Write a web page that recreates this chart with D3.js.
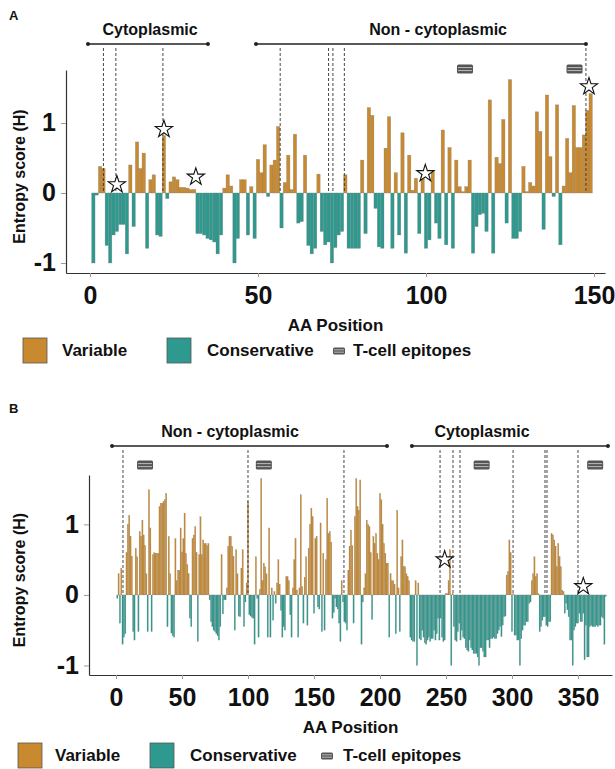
<!DOCTYPE html>
<html>
<head>
<meta charset="utf-8">
<script src="https://cdn.jsdelivr.net/npm/d3@7"></script>
<style>
  body { margin: 0; background: #fff; }
  svg { display: block; font-family: "Liberation Sans", Arial, sans-serif; font-weight: bold; }
</style>
</head>
<body>
<div id="chart"></div>
<script>
// entropy per AA position (position = index + 1)
const entropyA = [
  -1.0, -0.03, 0.38, 0.35, -0.75, -1.0, -0.6, -0.55, -0.45, -0.45,
  -0.87, 0.4, -0.48, 0.73, 0.35, 0.57, -0.79, 0.19, 0.26, -0.6,
  -0.62, 0.82, -0.08, 0.16, 0.23, 0.19, 0.08, 0.08, 0.07, 0.05,
  0.05, -0.58, -0.58, -0.6, -0.65, -0.67, -0.7, -0.87, -0.6, 0.07,
  0.26, 0.1, -1.0, -0.65, 0.19, 0.19, -0.6, 0.09, -0.65, 0.48,
  0.29, 0.69, -0.05, 0.4, 0.47, 0.95, -0.5, 0.15, 0.54, 0.05,
  0.84, -0.43, -0.41, 0.54, -0.75, -0.87, -0.79, 0.27, -0.55, -0.74,
  -0.7, -1.0, -0.78, -0.6, -0.55, 0.26, -0.79, -0.79, -0.79, -0.79,
  0.47, -0.58, 1.22, 1.11, -0.22, -0.77, -0.79, 0.64, 1.09, -0.79,
  0.29, -0.6, 0.86, -0.86, 0.54, 0.04, 0.21, -0.58, 0.23, -0.79,
  -0.67, 0.32, -0.43, -0.65, 0.9, -0.74, 0.65, -0.79, 0.47, 0.09,
  0.02, 0.09, 0.47, -0.86, -0.48, -0.31, -0.29, -0.55, 1.33, -0.86,
  0.51, 0.42, 1.05, -0.43, 1.62, -0.65, -0.65, -0.55, 0.38, 0.02,
  0.15, 0.1, 1.16, 0.88, -0.52, 1.4, 0.52, -0.05, 1.26, -0.74,
  0.1, 0.78, 0.29, 1.25, 0.65, 0.65, 0.83, 1.18, 1.42
];

const entropyB = [
  -0.05, 0.3, -0.4, 0.38, -0.7, -0.6, -0.55, 0.6, 1.0, 1.13,
  0.83, 0.55, -0.52, -0.64, 0.66, 0.54, -0.52, 0.9, 0.83, 1.06,
  0.85, 0.7, 0.3, -0.52, 1.49, 0.95, -0.52, 0.57, 0.6, 0.59,
  0.59, 0.59, 1.25, 1.3, 1.3, 1.32, 1.35, 1.44, -0.45, 0.83,
  0.3, -0.54, -0.58, -0.6, 0.8, 0.2, 0.35, 0.35, 0.95, 0.61,
  0.8, 1.16, 0.59, 0.43, 0.3, -0.33, -0.45, 0.8, 0.85, 0.97,
  0.6, -0.66, 0.57, 1.11, 0.57, 0.78, 0.73, 0.73, 0.7, 0.73,
  -0.07, -0.38, -0.45, -0.5, -0.52, -0.55, -0.58, -0.64, -0.45, 0.57,
  -0.27, -0.07, -0.07, 0.1, 0.69, 0.83,
  0.83, 0.69, 0.55, -0.5, 0.64, 0.3, -0.3, -0.31, 0.38, 0.64,
  -0.45, -0.1, 0.17, 1.32, -0.28, -0.3, -0.32, -0.33, -0.7, 0.54,
  -0.05, -0.6, 0.08, 1.65, 0.2, 0.45, 0.4, 0.3, -0.6, 0.95,
  -0.6, 0.1, -0.36, 0.05, -0.12, 0.17, 0.5, 0.15, -0.22, -0.6,
  -0.45, -0.5, 0.26, 0.26, 0.2, -0.28, -0.6, 0.1, 0.5, 0.8,
  0.07, -0.6, 0.1, 1.42, 0.12, -0.4, 0.25, 0.54, -0.43, 0.66,
  1.0, 1.23, 1.11, -0.26, 0.8, 0.83, -0.17, -0.2, 1.02, -0.52,
  0.59, -0.5, 0.5, 1.37, 0.87, 0.9, 0.75, -0.33, -0.25, -0.05,
  -0.17, -0.2, -0.4, -0.66, 0.2, -0.1, -0.38, -0.4, -0.5, 0.35,
  0.69, 0.92, 0.7, -0.4, 1.11, 1.65,
  1.25, 1.2, 1.63, -0.7, -0.1, 0.1, 0.3, 1.06, 1.0, 0.97,
  0.6, -0.35, 0.83, 0.73, 0.87, 0.59, 0.5, 1.44, 1.35, 1.0,
  0.73, 0.59, 0.45, 0.45, -0.6, 0.3, 0.2, 0.2, 0.15, -0.55,
  1.2, 0.1, -0.52, 0.54, 0.78, 0.4, 0.4, 0.3, 0.26, 0.2,
  -0.6, -0.64, -0.66, -0.66, 0.2, -1.0, 0.17, -0.62, -0.64, -0.5,
  -0.6, -0.68, -0.7, -0.64, -0.6, -0.66, -0.62, -0.62, -0.5, -0.64,
  -0.55, -0.33, -0.64, -0.33, -0.6, -0.66, -0.64, 0.02, 0.02, 0.2,
  0.64, -1.0, 0.02, -0.45, -0.64, -0.66, -0.52, -0.4, -0.64, -0.5,
  -0.6, -0.62, -0.75, -0.78, -0.8, -0.64, -0.75, -0.78, -0.83, -0.83,
  -0.83, -0.88, -1.0, -0.75, -0.75, -0.8, -0.88, -0.88, -0.64, -0.64,
  -0.75, -0.62, -0.62, -0.6, -0.62, -0.62, -0.55, -0.5, -0.45, -0.59,
  -0.43, -0.31, -0.3, 0.28, 0.33, 0.78, 0.6, -0.52, 0.02, -0.57,
  -0.57, -0.64, -0.64, -1.0, -0.62, -0.5, -0.43, -0.43, -0.38, -0.38,
  -0.12, -0.1, 0.2, 0.3, 0.54, 0.26, 0.3, 0.02, -0.52, -0.45,
  -0.36, -0.31, -0.31, -0.43, -0.45, -0.38, -0.38, 0.87, 0.85, 0.78,
  0.69, 0.4, 0.73, 0.54, 0.4, 0.07, 0.05, -0.26, -0.12, -0.21,
  -0.31, -0.64, -0.64, -1.0, -0.5, -0.45, -0.4, -0.4, -0.26, -0.38,
  -0.38, -0.26, -0.92, -0.43, -0.88, -0.88, -0.45, -0.43, -0.45, -0.45,
  -0.45, -0.43, -0.45, -0.43, -0.43, -0.31, -0.33, -0.7, -0.02
];

const ticksA = [0, 50, 100, 150];
const ticksB = [0, 50, 100, 150, 200, 250, 300, 350];
const yTicks = [-1, 0, 1];

// domain brackets: [label, start, end, label centre]
const regionsA = [["Cytoplasmic", -0.6, 35.1, 17.9], ["Non - cytoplasmic", 49.4, 147.6, 103.6]];
const regionsB = [["Non - cytoplasmic", -3, 205.3, 86.4], ["Cytoplasmic", 224.2, 372.7, 277.3]];

// dashed marker positions
const markersA = [4, 7.7, 21.7, 56.6, 71, 72.3, 75.7, 147.6];
const markersB = [5.3, 100, 172.7, 245.5, 255.3, 260.6, 300.8, 325, 326.5, 350];

// stars: [position, height]
const starsA = [[8, 0.12], [22, 0.91], [31.5, 0.23], [99.8, 0.28], [148.5, 1.52]];
const starsB = [[249, 0.5], [354, 0.12]];

// T-cell epitope positions
const epitopesA = [111.6, 144.2];
const epitopesB = [22, 112, 277, 363];

const VAR = "#c98a2f", CONS = "#2e9a8f";

const svg = d3.select("#chart").append("svg")
  .attr("width", 615).attr("height", 769);

function epitopeIcon(g, cx, cy, w, h) {
  g.append("rect").attr("x", cx - w / 2).attr("y", cy - h / 2)
    .attr("width", w).attr("height", h).attr("rx", 1.5)
    .attr("fill", "#555");
  [-h / 6, h / 6].forEach(o => {
    g.append("line").attr("x1", cx - w / 2 + 1).attr("x2", cx + w / 2 - 1)
      .attr("y1", cy + o).attr("y2", cy + o)
      .attr("stroke", "#bdbdbd").attr("stroke-width", 1);
  });
}

function drawPanel(c) {
  const g = svg.append("g");
  const x = d3.scaleLinear().domain(c.xDomain).range([c.left, c.right]);
  const y = d3.scaleLinear().domain(c.yDomain).range([c.bottom, c.top]);

  // bars
  const bars = c.values.map((v, i) => ({ pos: i + 1, v: v }));
  g.append("g").selectAll("rect").data(bars).join("rect")
    .attr("x", d => x(d.pos) - c.bw / 2)
    .attr("width", c.bw)
    .attr("y", d => Math.min(y(d.v), y(0)))
    .attr("height", d => Math.abs(y(d.v) - y(0)))
    .attr("fill", d => d.v > 0 ? VAR : CONS)
    .attr("stroke", "rgba(120,120,120,0.55)")
    .attr("stroke-width", c.sw);

  // dashed markers
  g.append("g").selectAll("line").data(c.markers).join("line")
    .attr("x1", d => x(d)).attr("x2", d => x(d))
    .attr("y1", c.bracketY + 4).attr("y2", y(0))
    .attr("stroke", "#333").attr("stroke-width", 0.9)
    .attr("stroke-dasharray", "3,2");

  // region brackets
  c.regions.forEach(r => {
    g.append("line").attr("x1", x(r[1])).attr("x2", x(r[2]))
      .attr("y1", c.bracketY).attr("y2", c.bracketY)
      .attr("stroke", "#222").attr("stroke-width", 1.6);
    [r[1], r[2]].forEach(p => g.append("circle")
      .attr("cx", x(p)).attr("cy", c.bracketY).attr("r", 2).attr("fill", "#222"));
    g.append("text").attr("x", x(r[3])).attr("y", c.bracketY - 9)
      .attr("text-anchor", "middle").attr("font-size", 16).attr("fill", "#111")
      .text(r[0]);
  });

  // stars
  g.append("g").selectAll("path").data(c.stars).join("path")
    .attr("d", d3.symbol().type(d3.symbolStar).size(92))
    .attr("transform", d => `translate(${x(d[0])},${y(d[1])})`)
    .attr("fill", "#fff").attr("stroke", "#111").attr("stroke-width", 1.1);

  // epitopes
  c.epitopes.forEach(p => epitopeIcon(g, x(p), y(c.epiY), 16, 9));

  // axes
  const xAxis = g.append("g").attr("transform", `translate(0,${c.bottom})`)
    .call(d3.axisBottom(x).tickValues(c.xTicks).tickSize(4).tickSizeOuter(0).tickPadding(9));
  const yAxis = g.append("g").attr("transform", `translate(${c.left},0)`)
    .call(d3.axisLeft(y).tickValues(yTicks).tickSize(5).tickSizeOuter(0).tickPadding(5)
      .tickFormat(d3.format("d")));
  [xAxis, yAxis].forEach(a => {
    a.selectAll("text").attr("font-size", 25).attr("font-family", "'Liberation Sans', Arial, sans-serif")
      .attr("font-weight", "bold").attr("fill", "#111");
    a.select(".domain").attr("stroke", "#333").attr("stroke-width", 1.2);
    a.selectAll(".tick line").attr("stroke", "#999");
  });
  yAxis.selectAll("text").text(d => d < 0 ? "-" + Math.abs(d) : d);

  g.append("text").attr("x", (c.left + c.right) / 2 + c.titleShift).attr("y", c.bottom + 58)
    .attr("text-anchor", "middle").attr("font-size", 17).attr("fill", "#111")
    .text("AA Position");
  g.append("text").attr("transform", `translate(25,${(c.top + c.bottom) / 2 + 5}) rotate(-90)`)
    .attr("text-anchor", "middle").attr("font-size", 16).attr("fill", "#111")
    .text("Entropy score (H)");
  g.append("text").attr("x", 9).attr("y", c.letterY).attr("font-size", 13).attr("fill", "#111")
    .text(c.letter);

  // legend
  const ly = c.legendY, L = c.legend;
  g.append("rect").attr("x", L[0]).attr("y", ly - 12).attr("width", 24).attr("height", 25)
    .attr("fill", VAR).attr("stroke", "#555").attr("stroke-width", 0.8);
  g.append("text").attr("x", L[1]).attr("y", ly + 6).attr("font-size", 17).attr("fill", "#111").text("Variable");
  g.append("rect").attr("x", L[2]).attr("y", ly - 12).attr("width", 24).attr("height", 25)
    .attr("fill", CONS).attr("stroke", "#555").attr("stroke-width", 0.8);
  g.append("text").attr("x", L[3]).attr("y", ly + 6).attr("font-size", 17).attr("fill", "#111").text("Conservative");
  epitopeIcon(g, L[4], ly + 1, 12, 7);
  g.append("text").attr("x", L[5]).attr("y", ly + 6).attr("font-size", 17).attr("fill", "#111").text("T-cell epitopes");
}

drawPanel({
  letter: "A", letterY: 20, values: entropyA,
  left: 66, right: 605, top: 70, bottom: 273,
  xDomain: [-7.14, 153.27], yDomain: [-1.143, 1.757],
  xTicks: ticksA, bw: 3.36, sw: 0.5,
  regions: regionsA, markers: markersA, stars: starsA,
  epitopes: epitopesA, epiY: 1.77, bracketY: 44, titleShift: 0,
  legendY: 350, legend: [23, 62, 167, 207, 339, 353]
});

drawPanel({
  letter: "B", letterY: 413, values: entropyB,
  left: 89, right: 612, top: 475, bottom: 675,
  xDomain: [-20.45, 375.76], yDomain: [-1.135, 1.70],
  xTicks: ticksB, bw: 1.32, sw: 0.3,
  regions: regionsB, markers: markersB, stars: starsB,
  epitopes: epitopesB, epiY: 1.84, bracketY: 446, titleShift: 0,
  legendY: 755, legend: [18, 55, 150, 190, 327, 343]
});
</script>
</body>
</html>
